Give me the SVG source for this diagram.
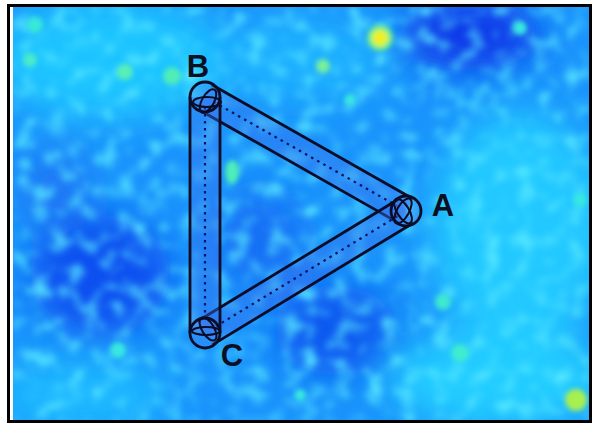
<svg xmlns="http://www.w3.org/2000/svg" width="596" height="423" viewBox="0 0 596 423">
  <defs>
    <filter id="blurBig" x="-50%" y="-50%" width="200%" height="200%"><feGaussianBlur stdDeviation="18"/></filter>
    <filter id="blurSmall" x="-80%" y="-80%" width="260%" height="260%"><feGaussianBlur stdDeviation="2.5"/></filter>
    <filter id="tex" x="0" y="0" width="100%" height="100%">
      <feTurbulence type="fractalNoise" baseFrequency="0.06" numOctaves="2" seed="11" result="n"/>
      <feColorMatrix in="n" type="matrix" values="0 0 0 0 0.1  0 0 0 0 0.82  0 0 0 0 1  2.6 0 0 0 -1.25"/>
      <feGaussianBlur stdDeviation="3"/>
    </filter>
    <clipPath id="photo"><rect x="13" y="7" width="576" height="414"/></clipPath>
    <style>
      .edge { stroke: #0a0c28; stroke-width: 2.8; fill: none; }
      .tube { fill: #3a70ee; fill-opacity: 0.4; stroke: none; }
      .axis { stroke: #0b1460; stroke-width: 2.2; stroke-dasharray: 2.5 4.5; fill: none; }
      .ring { stroke: #0a0c28; stroke-width: 2.8; fill: #4a7ff0; fill-opacity: 0.25; }
      .cap { stroke: #0a0c28; stroke-width: 2; fill: none; }
      .label { font-family: "Liberation Sans", Arial, sans-serif; font-weight: bold; font-size: 31px; fill: #0b0f22; text-anchor: middle; }
    </style>
  </defs>

  <rect x="0" y="0" width="596" height="423" fill="#ffffff"/>

  <g id="background" clip-path="url(#photo)">
    <rect x="13" y="7" width="576" height="414" fill="#1a94fc"/>
    <g filter="url(#blurBig)">
      <ellipse cx="110" cy="60" rx="120" ry="60" fill="#1ec4ff"/>
      <ellipse cx="520" cy="230" rx="90" ry="120" fill="#20c8ff"/>
      <ellipse cx="500" cy="380" rx="110" ry="50" fill="#22ccff"/>
      <ellipse cx="80" cy="395" rx="90" ry="35" fill="#1ab8ff"/>
      <ellipse cx="300" cy="60" rx="90" ry="40" fill="#1ab0ff"/>
      <ellipse cx="100" cy="275" rx="70" ry="60" fill="#0a4ff0"/>
      <ellipse cx="470" cy="35" rx="70" ry="35" fill="#0a38e8"/>
      <ellipse cx="335" cy="330" rx="60" ry="45" fill="#0b58f0"/>
      <ellipse cx="260" cy="240" rx="45" ry="50" fill="#1670f5"/>
      <ellipse cx="55" cy="190" rx="35" ry="40" fill="#1a78f5"/>
    </g>
    <rect x="13" y="7" width="576" height="414" fill="#000" filter="url(#tex)"/>
    <g filter="url(#blurSmall)">
      <circle cx="380" cy="38" r="13" fill="#70f090"/>
      <circle cx="380" cy="38" r="8" fill="#f0f020"/>
      <circle cx="576" cy="400" r="11" fill="#a8f050"/>
      <circle cx="125" cy="72" r="8" fill="#58f0b8"/>
      <circle cx="172" cy="76" r="9" fill="#50eeb8"/>
      <circle cx="323" cy="66" r="7" fill="#78f098"/>
      <ellipse cx="232" cy="172" rx="7" ry="12" fill="#50eeb8"/>
      <circle cx="443" cy="302" r="8" fill="#40e8d0"/>
      <circle cx="460" cy="353" r="9" fill="#40ecd0"/>
      <circle cx="118" cy="350" r="8" fill="#38e8e0"/>
      <circle cx="520" cy="28" r="7" fill="#38e8e0"/>
      <circle cx="35" cy="25" r="8" fill="#38e8d8"/>
      <circle cx="580" cy="200" r="7" fill="#38e8e0"/>
      <circle cx="30" cy="60" r="7" fill="#48ecc8"/>
      <circle cx="300" cy="395" r="6" fill="#38e8e0"/>
      <circle cx="350" cy="100" r="6" fill="#38e8e0"/>
    </g>
  </g>

  <rect x="8.5" y="5.5" width="582" height="416" fill="none" stroke="#000" stroke-width="3"/>

  <g id="connectors">
    <g id="tube-BA" transform="translate(205,97) rotate(29.56)">
      <rect class="tube" x="0" y="-14" width="231" height="28"/>
      <line class="edge" x1="0" y1="-14" x2="231" y2="-14"/>
      <line class="edge" x1="0" y1="14" x2="231" y2="14"/>
      <line class="axis" x1="10" y1="0" x2="221" y2="0"/>
    </g>
    <g id="tube-AC" transform="translate(406,211) rotate(148.74)">
      <rect class="tube" x="0" y="-14" width="235" height="28"/>
      <line class="edge" x1="0" y1="-14" x2="235" y2="-14"/>
      <line class="edge" x1="0" y1="14" x2="235" y2="14"/>
      <line class="axis" x1="10" y1="0" x2="225" y2="0"/>
    </g>
    <g id="tube-BC" transform="translate(205,97) rotate(90)">
      <rect class="tube" x="0" y="-15" width="236" height="30"/>
      <line class="edge" x1="0" y1="-15" x2="236" y2="-15"/>
      <line class="edge" x1="0" y1="15" x2="236" y2="15"/>
      <line class="axis" x1="10" y1="0" x2="226" y2="0"/>
    </g>
  </g>

  <g id="node-B">
    <circle class="ring" cx="205" cy="97" r="15"/>
    <ellipse class="cap" cx="207" cy="102" rx="14" ry="5"/>
    <ellipse class="cap" cx="208" cy="101" rx="6" ry="13" transform="rotate(29.56 208 101)"/>
    <text class="label" x="198" y="77">B</text>
  </g>

  <g id="node-A">
    <circle class="ring" cx="406" cy="211" r="15"/>
    <ellipse class="cap" cx="403" cy="211" rx="6" ry="14" transform="rotate(29.56 403 211)"/>
    <ellipse class="cap" cx="403" cy="211" rx="6" ry="14" transform="rotate(-31.26 403 211)"/>
    <text class="label" x="443" y="216">A</text>
  </g>

  <g id="node-C">
    <circle class="ring" cx="205" cy="333" r="15"/>
    <ellipse class="cap" cx="206" cy="331" rx="14" ry="4"/>
    <ellipse class="cap" cx="208" cy="329" rx="6" ry="13" transform="rotate(-31.26 208 329)"/>
    <text class="label" x="232" y="366">C</text>
  </g>
</svg>
